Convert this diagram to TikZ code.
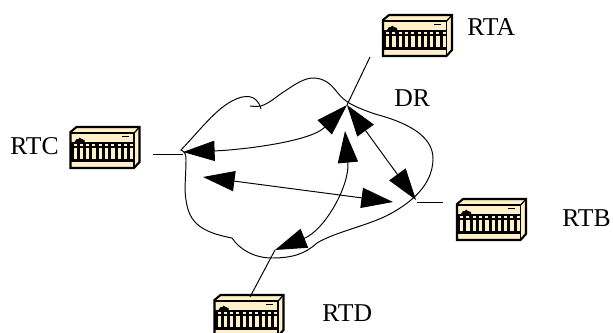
\documentclass[tikz,border=0pt]{standalone}
\usepackage{fontspec}
\setmainfont{Liberation Serif}
\usetikzlibrary{arrows.meta}
\definecolor{routercream}{RGB}{255,240,200}
\tikzset{
  wire/.style={line width=0.55pt},
  link/.style={line width=0.55pt,{Triangle[length=18pt,width=11.5pt]}-{Triangle[length=18pt,width=11.5pt]}},
  label/.style={font=\fontsize{14.6}{16}\selectfont,inner sep=0pt},
  router/.pic={
    \draw[line width=1.2pt,fill=routercream] (1,6) -- (7,1) -- (70,1) -- (70,36) -- (64.5,42) -- (1,42) -- cycle;
    \draw[line width=1.1pt] (1,7.2) -- (64.5,7.2) -- (64.5,42);
    \draw[line width=0.7pt] (64.5,7.2) -- (70,1);
    \fill (5,16) -- (7,13) -- (9,13) -- (10,11.5) -- (12,13) -- (15,14) -- (15,16) -- cycle;
    \draw[line width=1pt] (52,10.5) -- (59,10.5);
    \fill (1,16) rectangle (64.5,22);
    \foreach \barx in {1,7.3,13.6,19.9,26.2,32.5,38.8,45.1,51.4,57.7} {
      \fill (\barx,22) rectangle ++(3,11);
      \fill[routercream] (\barx+3,18) rectangle ++(3,1.8);
    }
    \fill (1,33) rectangle (64.5,35.5);
  }
}
\begin{document}
\begin{tikzpicture}[x=0.02cm,y=-0.02cm]
\useasboundingbox (0,0) rectangle (613,332);
\clip (0,0) rectangle (613,332);

\pic at (382,14) {router};
\pic at (69.5,126) {router};
\pic at (456,198) {router};
\pic at (213.5,294) {router};

\node[label,anchor=west] (rta) at (467,27) {RTA};
\node[label,anchor=west] (rtb) at (562,218) {RTB};
\node[label,anchor=west] (rtc) at (10,146) {RTC};
\node[label,anchor=west] (rtd) at (322,313) {RTD};
\node[label,anchor=west] (dr) at (394,98) {DR};

\coordinate (hub) at (347,105);
\coordinate (hubb) at (416,200);
\coordinate (hubc) at (183,152);
\coordinate (hubd) at (275,250);
\coordinate (stubb) at (417,202);
\coordinate (stubc) at (183,154);
\coordinate (feeda) at (370,57);
\coordinate (feedb) at (443,202);
\coordinate (feedc) at (153,154);
\coordinate (feedd) at (250,297);
\coordinate (crossl) at (203,177);
\coordinate (crossr) at (393,202);
\coordinate (ringtop) at (345,131);

% cloud
\draw[wire] (250,106) .. controls (254,106.5) and (257,106.5) .. (261,106)
  .. controls (270,103) and (277,96) .. (285,91)
  .. controls (294,85) and (304,78) .. (313,78)
  .. controls (324,78) and (331,84) .. (337,92)
  .. controls (345,102) and (352,106) .. (375,114)
  .. controls (405,122) and (434,135) .. (433,160)
  .. controls (432,185) and (412,202) .. (390,214)
  .. controls (370,225) and (335,232) .. (317,243)
  .. controls (305,254) and (292,258) .. (272,258)
  .. controls (255,258) and (240,250) .. (232,238)
  .. controls (200,232) and (189,222) .. (186,200)
  .. controls (184,190) and (186,175) .. (186,160)
  .. controls (186,154) and (185,152) .. (181,150)
  .. controls (200,130) and (215,110) .. (232,101)
  .. controls (245,94) and (257,94) .. (261,109);

% stubs to the routers
\draw[wire] (feeda) -- (hub);
\draw[wire] (feedb) -- (stubb);
\draw[wire] (feedc) -- (stubc);
\draw[wire] (feedd) -- (hubd);

% links
\draw[link] (hubc) .. controls (240,150) and (310,142) .. (hub);
\draw[link] (hub) -- (hubb);
\draw[link] (crossl) -- (crossr);
\draw[link] (ringtop) .. controls (350,185) and (325,230) .. (hubd);
\end{tikzpicture}
\end{document}
